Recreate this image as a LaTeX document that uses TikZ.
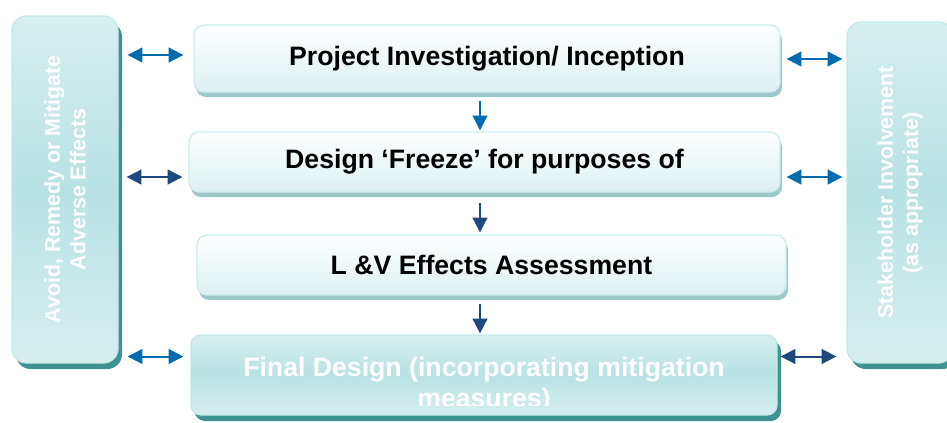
\documentclass[tikz,border=0pt]{standalone}
\usepackage{fontspec}
\setmainfont{Liberation Sans}
\usetikzlibrary{arrows.meta,shadows}

\definecolor{arrblue}{RGB}{0,108,175}
\definecolor{arrnavy}{RGB}{31,73,125}
\definecolor{boxline}{RGB}{205,236,237}
\definecolor{boxlow}{RGB}{220,240,241}
\definecolor{boxshade}{RGB}{156,200,200}
\definecolor{tealtop}{RGB}{214,239,239}
\definecolor{tealmid}{RGB}{184,226,227}
\definecolor{tealline}{RGB}{196,231,232}
\definecolor{tealshade}{RGB}{61,146,146}

\tikzset{every picture/.style={line width=0.75pt},
  stepbox/.style={draw=boxline, line width=1pt, rounded corners=7.5pt,
    top color=white, bottom color=boxlow,
    drop shadow={shadow xshift=1.5pt, shadow yshift=-3.75pt, fill=boxshade, opacity=1},
    font=\fontsize{20}{22.5}\selectfont\bfseries, align=center},
  tealbox/.style={draw=tealline, line width=1pt, rounded corners=11pt,
    top color=tealtop, bottom color=tealtop, middle color=tealmid,
    drop shadow={shadow xshift=3pt, shadow yshift=-4.5pt, fill=tealshade, opacity=1}},
  sidetext/.style={text=white, rotate=90, align=center,
    font=\fontsize{16}{19}\selectfont\bfseries},
  twoway/.style={line width=1.5pt, {Triangle[length=11pt,width=11pt]}-{Triangle[length=11pt,width=11pt]}},
  oneway/.style={line width=1.5pt, -{Triangle[length=11pt,width=11pt]}}
}

\begin{document}
\begin{tikzpicture}[x=0.75pt,y=0.75pt,yscale=-1,xscale=1]
        \useasboundingbox (0,0) rectangle (947,422);

        %Rounded Rect (side boxes)
        \node [tealbox, minimum width=79.5pt, minimum height=260.25pt] (avoid) at (65,189.5) {};
        \node [tealbox, minimum width=79.5pt, minimum height=255.75pt] (stake) at (900,192.5) {};
        % Text Node
        \node [sidetext] (avoidtxt) at (avoid.center) {Avoid, Remedy or Mitigate\\Adverse Effects};
        % Text Node
        \node [sidetext] (staketxt) at (stake.center) {Stakeholder Involvement\\(as appropriate)};

        %Rounded Rect (process steps)
        \node [stepbox, minimum width=439.5pt, minimum height=50.25pt] (incept) at (487,58.5) {Project Investigation/ Inception};
        \node [stepbox, minimum width=443.25pt, minimum height=45pt] (freeze) at (484.5,162) {Design ‘Freeze’ for purposes of};
        \node [stepbox, minimum width=441.75pt, minimum height=45pt] (assess) at (491.5,265) {L \&V Effects Assessment};
        \node [tealbox, rounded corners=7.5pt, drop shadow={shadow xshift=2.25pt, shadow yshift=-3.75pt, fill=tealshade, opacity=1},
               minimum width=439.5pt, minimum height=60pt] (final) at (484,375) {};
        % Text Node
        \begin{scope}
        \clip (0,0) rectangle (947,405);
        \node [text=white, align=center, font=\fontsize{20}{23.25}\selectfont\bfseries] (finaltxt) at (484,385.5)
              {Final Design (incorporating mitigation\\measures)};
        \end{scope}

        % arrow rows
        \coordinate (ax) at (480,0);
        \coordinate (lrow) at (0,55);
        \coordinate (rrow) at (0,59);
        \coordinate (midrow) at (0,177);
        \coordinate (lowrow) at (0,356.5);

        %Straight Lines (left side)
        \draw [twoway, arrblue, shorten <=6.75pt, shorten >=7.5pt] (avoid.east |- lrow) -- (incept.west |- lrow);
        \draw [twoway, arrnavy, shorten <=6pt, shorten >=4.5pt] (avoid.east |- midrow) -- (freeze.west |- midrow);
        \draw [twoway, arrblue, shorten <=6.75pt, shorten >=5.25pt] (avoid.east |- lowrow) -- (final.west |- lowrow);
        %Straight Lines (right side)
        \draw [twoway, arrblue, shorten <=4.5pt, shorten >=3pt] (incept.east |- rrow) -- (stake.west |- rrow);
        \draw [twoway, arrblue, shorten <=4.5pt, shorten >=3pt] (freeze.east |- midrow) -- (stake.west |- midrow);
        \draw [twoway, arrnavy, shorten <=2.25pt, shorten >=7.5pt] (final.east |- lowrow) -- (stake.west |- lowrow);
        %Straight Lines (down the steps)
        \draw [oneway, arrblue, shorten <=6pt, shorten >=0.75pt] (incept.south -| ax) -- (freeze.north -| ax);
        \draw [oneway, arrnavy, shorten <=7.5pt, shorten >=1.5pt] (freeze.south -| ax) -- (assess.north -| ax);
        \draw [oneway, arrnavy, shorten <=6pt, shorten >=0.75pt] (assess.south -| ax) -- (final.north -| ax);
\end{tikzpicture}
\end{document}
